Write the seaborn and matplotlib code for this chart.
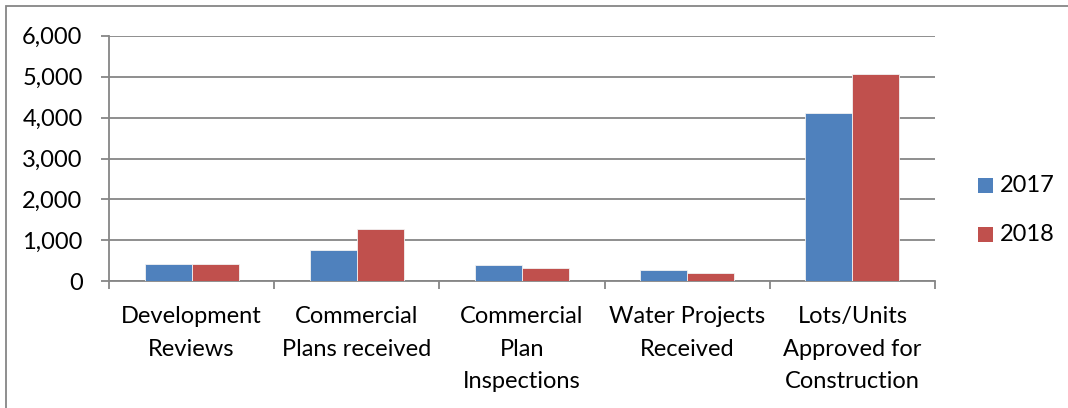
import numpy as np
import pandas as pd
import matplotlib
matplotlib.use("Agg")
import matplotlib.pyplot as plt
from matplotlib.patches import Rectangle
import seaborn as sns

categories = [
    "Development\nReviews",
    "Commercial\nPlans received",
    "Commercial\nPlan\nInspections",
    "Water Projects\nReceived",
    "Lots/Units\nApproved for\nConstruction",
]
values_2017 = [420, 775, 390, 275, 4110]
values_2018 = [425, 1270, 335, 210, 5070]
years = ["2017", "2018"]
y_ticks = [0, 1000, 2000, 3000, 4000, 5000, 6000]

colors = {"2017": "#4F81BD", "2018": "#C0504D"}
grid_gray = "#868686"
FS = 17

sns.set_theme(style="white")
plt.rcParams["font.family"] = ["Lato", "DejaVu Sans"]

df = pd.DataFrame({
    "category": categories * 2,
    "year": [years[0]] * len(categories) + [years[1]] * len(categories),
    "value": values_2017 + values_2018,
})

fig = plt.figure(figsize=(10.68, 4.08), dpi=100)
W, H = 1068, 408
ax = fig.add_axes([109 / W, (H - 281.3) / H, (935 - 109) / W, (281.3 - 35.7) / H])

sns.barplot(data=df, x="category", y="value", hue="year", order=categories,
            hue_order=years, palette=colors, width=0.57, gap=0,
            edgecolor="#F2F2F2", linewidth=0.6, saturation=1, ax=ax,
            legend=False, zorder=3)

ax.set_xlim(-0.5, len(categories) - 0.5)
ax.set_ylim(0, 6000)
ax.set_yticks(y_ticks)
ax.set_yticklabels([f"{v:,}" for v in y_ticks])
ax.yaxis.grid(True, color=grid_gray, linewidth=1.3, zorder=0)
ax.set_axisbelow(True)
ax.set_xlabel("")
ax.set_ylabel("")

for side in ["top", "right"]:
    ax.spines[side].set_visible(False)
for side in ["left", "bottom"]:
    ax.spines[side].set_color(grid_gray)
    ax.spines[side].set_linewidth(1.3)

ax.tick_params(axis="y", which="major", left=True, length=6, width=1.3,
               color=grid_gray, labelsize=FS, pad=13, labelcolor="black")
ax.set_xticks(np.arange(-0.5, len(categories), 1.0), minor=True)
ax.tick_params(axis="x", which="minor", bottom=True, length=6, width=1.3,
               color=grid_gray)
ax.tick_params(axis="x", which="major", bottom=False, length=0,
               labelsize=FS, pad=18, labelcolor="black")
for lbl in ax.get_xticklabels():
    lbl.set_linespacing(1.68)
    lbl.set_verticalalignment("top")

# legend with square swatches
for i, yr in enumerate(years):
    yc = 185.7 + i * 48.5
    fig.patches.append(Rectangle((978 / W, 1 - (yc + 7.5) / H), 15 / W, 15 / H,
                                 transform=fig.transFigure, facecolor=colors[yr],
                                 edgecolor="none"))
    fig.text(1000 / W, 1 - yc / H, yr, fontsize=FS, va="center", ha="left",
             color="black")

# outer frame of the chart area
fig.patches.append(Rectangle((6 / W, -0.05), 1.1, 1 - 6 / H + 0.05,
                             transform=fig.transFigure, facecolor="none",
                             edgecolor=grid_gray, linewidth=1.3))

fig.savefig("out.png", dpi=100)
